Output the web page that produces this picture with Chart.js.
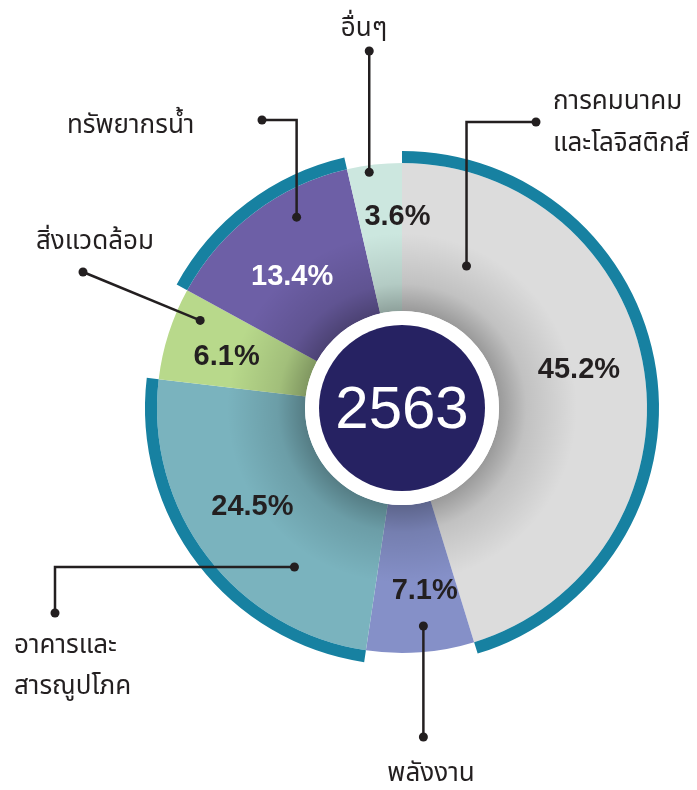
<!DOCTYPE html>
<html>
<head>
<meta charset="utf-8">
<script src="https://cdn.jsdelivr.net/npm/chart.js@4/dist/chart.umd.min.js"></script>
<style>
  html, body { margin: 0; padding: 0; background: #fff; }
  #wrap { width: 697px; height: 790px; position: relative; }
</style>
</head>
<body>
<div id="wrap"><canvas id="chart" width="697" height="790"></canvas></div>
<script>
// data
const categories = ["การคมนาคม\nและโลจิสติกส์", "พลังงาน", "อาคารและ\nสารณูปโภค", "สิ่งแวดล้อม", "ทรัพยากรน้ำ", "อื่นๆ"];
const shares = [45.2, 7.1, 24.5, 6.1, 13.4, 3.6];
const highlighted = [true, false, true, false, true, false];
const yearLabel = "2563";

// styling
const sliceColors = ["#dcdcdc", "#8590c8", "#7ab3be", "#b8d98b", "#6d5fa6", "#cce7df"];
const pctColors = ["#231f20", "#231f20", "#231f20", "#231f20", "#ffffff", "#231f20"];
const bandColor = "#1781a1";
const navy = "#262262";
const ink = "#231f20";
const thaiFont = '"Noto Sans Thai", "Noto Sans Thai Looped", "Noto Sans", sans-serif';

// label nudges relative to slice mid-angle at r=182
const pctNudge = [[-3, -11], [9, 2], [-5, -12], [-2, 4], [0, 14], [16, -10]];

// callouts: anchor inside slice (fraction along arc, radius), leader path, text
const callouts = [
  { frac: 0.15, r: 156, path: [["v", 122], ["h", 536]], text: { x: 553, y: [104, 146], align: "left" } },
  { frac: 0.45, r: 219, path: [["v", 737]], text: { x: 431, y: [776], align: "center" } },
  { frac: 0.29, r: 192, path: [["h", 55], ["v", 613]], text: { x: 14, y: [648, 689], align: "left" } },
  { frac: 0.76, r: 220, path: [["p", 83, 272]], text: { x: 36, y: [244], align: "left" } },
  { frac: 0.67, r: 218, path: [["v", 120], ["h", 262]], text: { x: 67, y: [128], align: "left" } },
  { frac: 0.39, r: 238, path: [["v", 51]], text: { x: 364, y: [31], align: "center" } }
];

const INNER = 97;

const decorPlugin = {
  id: "decor",
  afterDatasetsDraw(chart) {
    const ctx = chart.ctx;
    const arcs = chart.getDatasetMeta(1).data;
    const cx = arcs[0].x, cy = arcs[0].y;
    const outer = arcs[0].outerRadius;

    // inner shadow
    ctx.save();
    const g = ctx.createRadialGradient(cx, cy, INNER, cx, cy, 175);
    g.addColorStop(0, "rgba(0,0,0,0.30)");
    g.addColorStop(0.35, "rgba(0,0,0,0.12)");
    g.addColorStop(1, "rgba(0,0,0,0)");
    ctx.beginPath();
    ctx.arc(cx, cy, Math.min(175, outer), 0, Math.PI * 2);
    ctx.arc(cx, cy, INNER, 0, Math.PI * 2, true);
    ctx.fillStyle = g;
    ctx.fill();

    // center disc
    ctx.beginPath();
    ctx.arc(cx, cy, INNER, 0, Math.PI * 2);
    ctx.fillStyle = "#ffffff";
    ctx.fill();
    ctx.beginPath();
    ctx.arc(cx, cy, 83, 0, Math.PI * 2);
    ctx.fillStyle = navy;
    ctx.fill();
    ctx.fillStyle = "#ffffff";
    ctx.font = '60px "Liberation Sans", Arial, sans-serif';
    ctx.textAlign = "center";
    ctx.textBaseline = "middle";
    ctx.fillText(yearLabel, cx, cy + 3);

    // percentage labels
    ctx.font = 'bold 29px "Liberation Sans", Arial, sans-serif';
    arcs.forEach((a, i) => {
      const mid = (a.startAngle + a.endAngle) / 2;
      const x = cx + 182 * Math.cos(mid) + pctNudge[i][0];
      const y = cy + 182 * Math.sin(mid) + pctNudge[i][1];
      ctx.fillStyle = pctColors[i];
      ctx.fillText(shares[i].toFixed(1) + "%", x, y);
    });

    // callouts
    ctx.strokeStyle = ink;
    ctx.fillStyle = ink;
    ctx.lineWidth = 2.5;
    callouts.forEach((c, i) => {
      const a = arcs[i];
      const ang = a.startAngle + c.frac * (a.endAngle - a.startAngle);
      let x = cx + c.r * Math.cos(ang), y = cy + c.r * Math.sin(ang);
      const pts = [[x, y]];
      c.path.forEach(s => {
        if (s[0] === "v") y = s[1];
        else if (s[0] === "h") x = s[1];
        else { x = s[1]; y = s[2]; }
        pts.push([x, y]);
      });
      ctx.beginPath();
      pts.forEach((p, k) => k ? ctx.lineTo(p[0], p[1]) : ctx.moveTo(p[0], p[1]));
      ctx.stroke();
      [pts[0], pts[pts.length - 1]].forEach(p => {
        ctx.beginPath();
        ctx.arc(p[0], p[1], 4.5, 0, Math.PI * 2);
        ctx.fill();
      });
      ctx.font = "26px " + thaiFont;
      ctx.textAlign = c.text.align;
      ctx.textBaseline = "middle";
      categories[i].split("\n").forEach((line, k) => {
        ctx.fillText(line, c.text.x, c.text.y[k]);
      });
    });
    ctx.restore();
  }
};

new Chart(document.getElementById("chart"), {
  type: "doughnut",
  data: {
    labels: categories,
    datasets: [
      {
        data: shares,
        backgroundColor: highlighted.map(h => h ? bandColor : "rgba(0,0,0,0)"),
        borderWidth: 0,
        weight: 12
      },
      {
        data: shares,
        backgroundColor: sliceColors,
        borderWidth: 0,
        weight: 148
      }
    ]
  },
  options: {
    responsive: false,
    animation: false,
    events: [],
    cutout: INNER,
    layout: { padding: { left: 145, right: 38, top: 151, bottom: 125 } },
    plugins: { legend: { display: false }, tooltip: { enabled: false } }
  },
  plugins: [decorPlugin]
});
</script>
</body>
</html>
